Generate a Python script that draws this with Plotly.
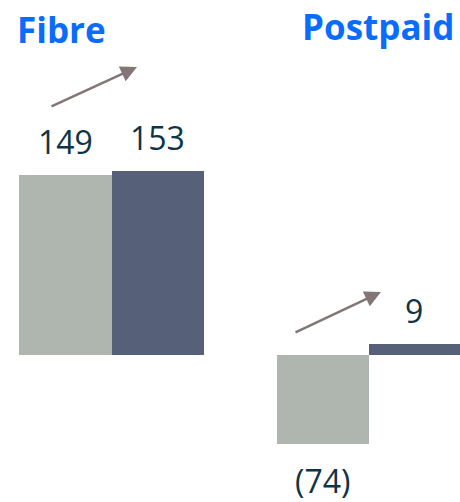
import plotly.graph_objects as go

groups = ["Fibre", "Postpaid"]
periods = ["Prior", "Current"]
fibre_values = [149, 153]
postpaid_values = [-74, 9]

bar_colors = ["#AFB5AF", "#566078"]
label_color = "#0E3448"
title_color = "#0A6CFA"
arrow_color = "#827676"
FONT = "Open Sans"

def fmt(v):
    return f"({abs(v)})" if v < 0 else f"{v}"

fig = go.Figure()
series = [fibre_values, postpaid_values]
axes = [("x", "y"), ("x2", "y")]
for vals, (xa, ya) in zip(series, axes):
    fig.add_trace(go.Bar(x=periods, y=vals, marker=dict(color=bar_colors, line=dict(width=0)),
                         xaxis=xa, yaxis=ya, showlegend=False, hoverinfo="skip"))
    for p, v in zip(periods, vals):
        fig.add_annotation(x=p, y=v, xref=xa, yref=ya, text=fmt(v), showarrow=False,
                           xanchor="center",
                           yanchor="bottom" if v >= 0 else "top",
                           yshift=10 if v >= 0 else -13,
                           font=dict(family=FONT, size=32, color=label_color))

W, H = 460, 502
scale = 1.205
zero_px = 355
yr = [-(H - zero_px) / scale, zero_px / scale]

fig.update_layout(
    width=W, height=H, margin=dict(l=0, r=0, t=0, b=0),
    paper_bgcolor="white", plot_bgcolor="white", bargap=0,
    xaxis=dict(domain=[19 / W, 204 / W], visible=False),
    xaxis2=dict(domain=[277 / W, 460 / W], visible=False),
    yaxis=dict(range=yr, visible=False),
)

# titles
fig.add_annotation(x=61 / W, y=1 - 30 / H, xref="paper", yref="paper", text="<b>Fibre</b>",
                   xanchor="center", yanchor="middle",
                   showarrow=False, font=dict(family=FONT, size=35, color=title_color))
fig.add_annotation(x=378 / W, y=1 - 27 / H, xref="paper", yref="paper", text="<b>Postpaid</b>",
                   xanchor="center", yanchor="middle",
                   showarrow=False, font=dict(family=FONT, size=35, color=title_color))

# trend arrows
for (x0, y0, x1, y1) in [(50, 107, 137, 67), (294, 333, 381, 292)]:
    fig.add_annotation(x=x1 / W, y=1 - y1 / H, ax=x0 - x1, ay=y0 - y1,
                       xref="paper", yref="paper", axref="pixel", ayref="pixel",
                       text="", showarrow=True, arrowhead=2, arrowsize=1.3, arrowwidth=2.5,
                       arrowcolor=arrow_color)

fig.write_html("out.html", config={"displayModeBar": False},
               post_script="document.body.style.margin='0';")
